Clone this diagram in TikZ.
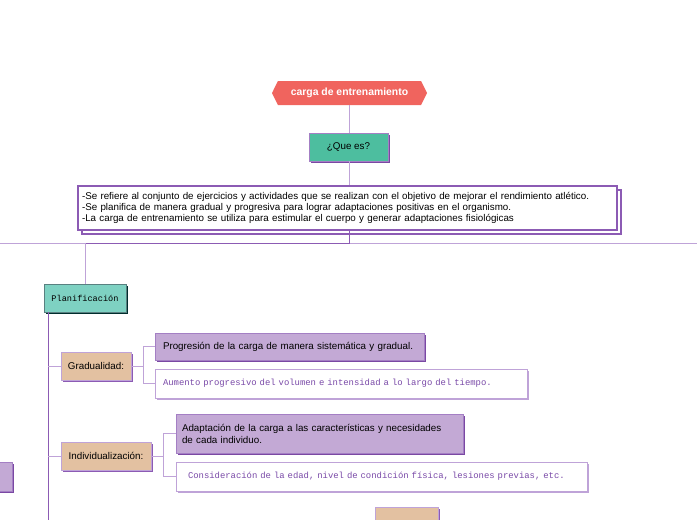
\documentclass[tikz,border=0pt]{standalone}
\usepackage{fontspec}
\setmainfont{Liberation Sans}
\newfontfamily\monof{Liberation Mono}
\usetikzlibrary{shapes.symbols,shadows}
\definecolor{titlered}{HTML}{F0645E}
\definecolor{tealA}{HTML}{4DBE9F}
\definecolor{tealB}{HTML}{7ED1C2}
\definecolor{tanF}{HTML}{E3C1A1}
\definecolor{purF}{HTML}{C3A9D5}
\definecolor{purD}{HTML}{8C5BB4}
\definecolor{purL}{HTML}{BFA3D8}
\definecolor{purBorder}{HTML}{A47FC4}
\definecolor{shadowP}{HTML}{7A48A3}
\definecolor{monoTxt}{HTML}{7A4AA8}
\tikzset{
  x=1pt, y=-1pt,
  lineL/.style={draw=purL, line width=1pt},
  lineD/.style={draw=purD, line width=1pt},
  boxbase/.style={rectangle, inner sep=0pt, line width=0.8pt},
  tealbox/.style={boxbase, fill=tealA, draw=purBorder, font=\fontsize{9.8}{12}\selectfont,
     drop shadow={shadow xshift=2pt, shadow yshift=-2pt, fill=shadowP, opacity=1}},
  planbox/.style={boxbase, fill=tealB, draw=gray!70!teal, font=\monof\fontsize{8.6}{10}\selectfont,
     drop shadow={shadow xshift=2pt, shadow yshift=-2pt, fill=black!65!teal, opacity=1}},
  tanbox/.style={boxbase, fill=tanF, draw=purL, font=\fontsize{9.8}{12}\selectfont,
     drop shadow={shadow xshift=2pt, shadow yshift=-2pt, fill=purD, opacity=1}},
  purbox/.style={boxbase, fill=purF, draw=purBorder, font=\fontsize{9.8}{12}\selectfont, align=left,
     drop shadow={shadow xshift=2pt, shadow yshift=-2pt, fill=shadowP, opacity=1}},
  whitebox/.style={boxbase, fill=white, draw=purL, text=monoTxt, font=\monof\fontsize{8.9}{10}\selectfont,
     drop shadow={shadow xshift=2pt, shadow yshift=-2pt, fill=purL, opacity=1}},
}
\begin{document}
\begin{tikzpicture}
\useasboundingbox (0,0) rectangle (697,520);
\clip (0,0) rectangle (697,520);
% title
\node[signal, signal to=east and west, signal pointer angle=127, fill=titlered, inner sep=0pt,
  minimum width=155pt, minimum height=24pt, text=white, font=\bfseries\fontsize{10.4}{12}\selectfont]
  (title) at (349.5,93) {carga de entrenamiento};
\node[tealbox, minimum width=79pt, minimum height=28pt] (quees) at (348.5,147) {¿Que es?};
\node[boxbase, fill=white, draw=purD, line width=1.6pt, minimum width=539pt, minimum height=44pt,
  text width=531pt, align=left, font=\fontsize{9.8}{11.4}\selectfont,
  copy shadow={shadow xshift=4pt, shadow yshift=-4pt, fill=white, draw=purD, line width=1.6pt}]
  (def) at (347.5,208) {-Se refiere al conjunto de ejercicios y actividades que se realizan con el objetivo de mejorar el rendimiento atlético.\\
-Se planifica de manera gradual y progresiva para lograr adaptaciones positivas en el organismo.\\
-La carga de entrenamiento se utiliza para estimular el cuerpo y generar adaptaciones fisiológicas};
\coordinate (hl) at (0,243);
\coordinate (hr) at (697,243);
\coordinate (hj) at (349,243);
\coordinate (hp) at (85,243);
\node[planbox, minimum width=82pt, minimum height=28pt] (plan) at (85,298) {Planificación};
\coordinate (vb) at (48,520);
% Gradualidad
\node[tanbox, minimum width=70pt, minimum height=28pt] (grad) at (96,366) {Gradualidad:};
\node[purbox, minimum width=269pt, minimum height=27pt, text width=253pt] (g1) at (289.5,346.5)
  {Progresión de la carga de manera sistemática y gradual.};
\node[whitebox, minimum width=372pt, minimum height=29pt, text width=356pt, align=left] (g2) at (341,383.5)
  {Aumento progresivo del volumen e intensidad a lo largo del tiempo.};
% Individualizacion
\node[tanbox, minimum width=90pt, minimum height=28pt] (ind) at (106,456) {Individualización:};
\node[purbox, minimum width=287pt, minimum height=39pt, text width=275pt] (i1) at (319.5,433.5)
  { Adaptación de la carga a las características y necesidades\\de cada individuo.};
\node[whitebox, minimum width=411pt, minimum height=29pt, text width=387pt, align=left] (i2) at (381.5,476.5)
  {Consideración de la edad, nivel de condición física, lesiones previas, etc.};
% cut-off boxes
\node[purbox, minimum width=40pt, minimum height=29pt] (lb) at (-8,476.5) {};
\node[tanbox, minimum width=63pt, minimum height=34pt] (bb) at (406.5,524) {};
% connectors
\draw[lineL] (title.south) -- (title.south |- quees.north);
\draw[lineL] (title.south |- quees.south) -- (title.south |- def.north);
\draw[lineL] (hl) -- (hr);
\draw[lineD] (hj |- def.south) -- (hj) -- (hp);
\draw[lineL] (hp) -- (plan.north);
\draw[lineD] (plan.south -| vb) -- (vb);
\draw[lineL] (grad.west -| vb) -- (grad.west);
\draw[lineL] (ind.west -| vb) -- (ind.west);
\draw[lineL] (grad.east) -- ++(12,0) |- (g1.west);
\draw[lineL] (grad.east) -- ++(12,0) |- (g2.west);
\draw[lineL] (ind.east) -- ++(12.5,0) |- (i1.west);
\draw[lineL] (ind.east) -- ++(12.5,0) |- (i2.west);
\end{tikzpicture}
\end{document}
